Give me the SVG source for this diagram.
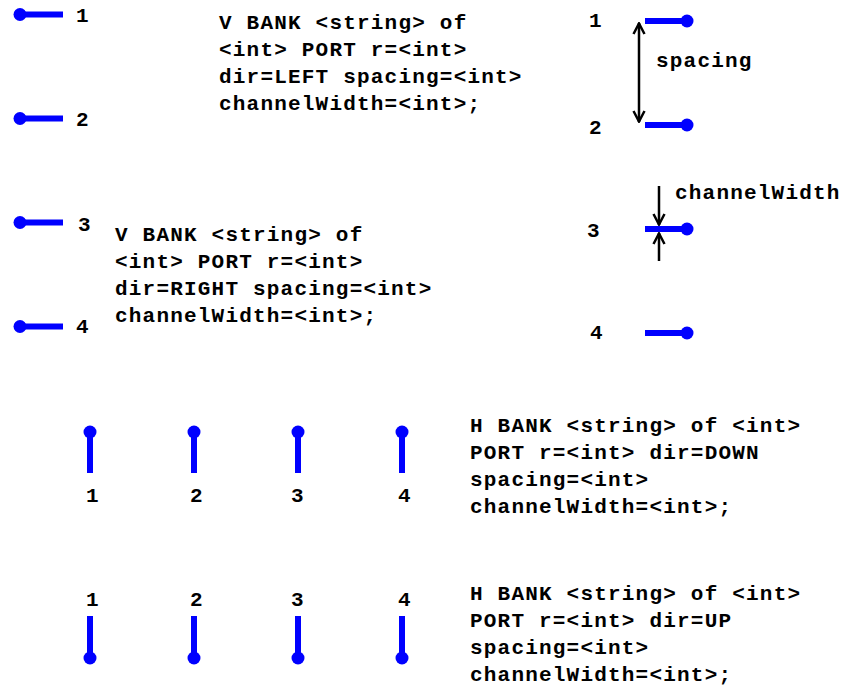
<svg xmlns="http://www.w3.org/2000/svg" width="842" height="688" viewBox="0 0 842 688">
<defs>
<style>
.t{font-family:"Liberation Mono","Courier New",monospace;font-weight:bold;font-size:21px;letter-spacing:1.2px;fill:#000}
.p{stroke:#0000ff;stroke-width:6;fill:none}
.d{fill:#0000ff}
.a{stroke:#000;stroke-width:2.5;fill:none}
</style>
<marker id="ah" viewBox="0 0 14 14" refX="13" refY="7" markerWidth="14" markerHeight="14" markerUnits="userSpaceOnUse" orient="auto-start-reverse">
<path d="M2,1.5 L12.5,7 L2,12.5" fill="none" stroke="#000" stroke-width="2.5"/>
</marker>
</defs>
<rect width="842" height="688" fill="#fff"/>
<g id="bank-left">
<line class="p" x1="20" y1="14.5" x2="63" y2="14.5"/><circle class="d" cx="20" cy="14.5" r="6.5"/>
<line class="p" x1="20" y1="118.5" x2="63" y2="118.5"/><circle class="d" cx="20" cy="118.5" r="6.5"/>
<line class="p" x1="20" y1="222.5" x2="63" y2="222.5"/><circle class="d" cx="20" cy="222.5" r="6.5"/>
<line class="p" x1="20" y1="326.5" x2="63" y2="326.5"/><circle class="d" cx="20" cy="326.5" r="6.5"/>
<text class="t" x="76" y="22">1</text>
<text class="t" x="76" y="126">2</text>
<text class="t" x="78" y="231">3</text>
<text class="t" x="76" y="333">4</text>
</g>
<g id="label-left">
<text class="t" x="219" y="29">V BANK &lt;string&gt; of</text>
<text class="t" x="219" y="56">&lt;int&gt; PORT r=&lt;int&gt;</text>
<text class="t" x="219" y="83">dir=LEFT spacing=&lt;int&gt;</text>
<text class="t" x="219" y="110">channelWidth=&lt;int&gt;;</text>
</g>
<g id="label-right">
<text class="t" x="115" y="241">V BANK &lt;string&gt; of</text>
<text class="t" x="115" y="268">&lt;int&gt; PORT r=&lt;int&gt;</text>
<text class="t" x="115" y="295">dir=RIGHT spacing=&lt;int&gt;</text>
<text class="t" x="115" y="322">channelWidth=&lt;int&gt;;</text>
</g>
<g id="bank-right">
<line class="p" x1="645" y1="21" x2="687" y2="21"/><circle class="d" cx="687" cy="21" r="6.5"/>
<line class="p" x1="645" y1="125" x2="687" y2="125"/><circle class="d" cx="687" cy="125" r="6.5"/>
<line class="p" x1="645" y1="229" x2="687" y2="229"/><circle class="d" cx="687" cy="229" r="6.5"/>
<line class="p" x1="645" y1="333" x2="687" y2="333"/><circle class="d" cx="687" cy="333" r="6.5"/>
<text class="t" x="589" y="27">1</text>
<text class="t" x="589" y="134">2</text>
<text class="t" x="587" y="237">3</text>
<text class="t" x="590" y="339">4</text>
<text class="t" x="656" y="67">spacing</text>
<text class="t" x="675" y="199">channelWidth</text>
</g>
<g id="bank-down">
<line class="p" x1="90" y1="432" x2="90" y2="473"/><circle class="d" cx="90" cy="432" r="6.5"/>
<line class="p" x1="194" y1="432" x2="194" y2="473"/><circle class="d" cx="194" cy="432" r="6.5"/>
<line class="p" x1="298" y1="432" x2="298" y2="473"/><circle class="d" cx="298" cy="432" r="6.5"/>
<line class="p" x1="402" y1="432" x2="402" y2="473"/><circle class="d" cx="402" cy="432" r="6.5"/>
<text class="t" x="86" y="502">1</text>
<text class="t" x="190" y="502">2</text>
<text class="t" x="291" y="502">3</text>
<text class="t" x="398" y="502">4</text>
</g>
<g id="label-down">
<text class="t" x="470" y="432">H BANK &lt;string&gt; of &lt;int&gt;</text>
<text class="t" x="470" y="459">PORT r=&lt;int&gt; dir=DOWN</text>
<text class="t" x="470" y="486">spacing=&lt;int&gt;</text>
<text class="t" x="470" y="513">channelWidth=&lt;int&gt;;</text>
</g>
<g id="bank-up">
<line class="p" x1="90" y1="616" x2="90" y2="658"/><circle class="d" cx="90" cy="658" r="6.5"/>
<line class="p" x1="194" y1="616" x2="194" y2="658"/><circle class="d" cx="194" cy="658" r="6.5"/>
<line class="p" x1="298" y1="616" x2="298" y2="658"/><circle class="d" cx="298" cy="658" r="6.5"/>
<line class="p" x1="402" y1="616" x2="402" y2="658"/><circle class="d" cx="402" cy="658" r="6.5"/>
<text class="t" x="86" y="606">1</text>
<text class="t" x="190" y="606">2</text>
<text class="t" x="291" y="606">3</text>
<text class="t" x="398" y="606">4</text>
</g>
<g id="label-up">
<text class="t" x="470" y="600">H BANK &lt;string&gt; of &lt;int&gt;</text>
<text class="t" x="470" y="627">PORT r=&lt;int&gt; dir=UP</text>
<text class="t" x="470" y="654">spacing=&lt;int&gt;</text>
<text class="t" x="470" y="681">channelWidth=&lt;int&gt;;</text>
</g>
<g id="connectors">
<line class="a" x1="639" y1="23" x2="639" y2="122" marker-start="url(#ah)" marker-end="url(#ah)"/>
<line class="a" x1="659" y1="186" x2="659" y2="225" marker-end="url(#ah)"/>
<line class="a" x1="659" y1="261" x2="659" y2="233" marker-end="url(#ah)"/>
</g>
</svg>
